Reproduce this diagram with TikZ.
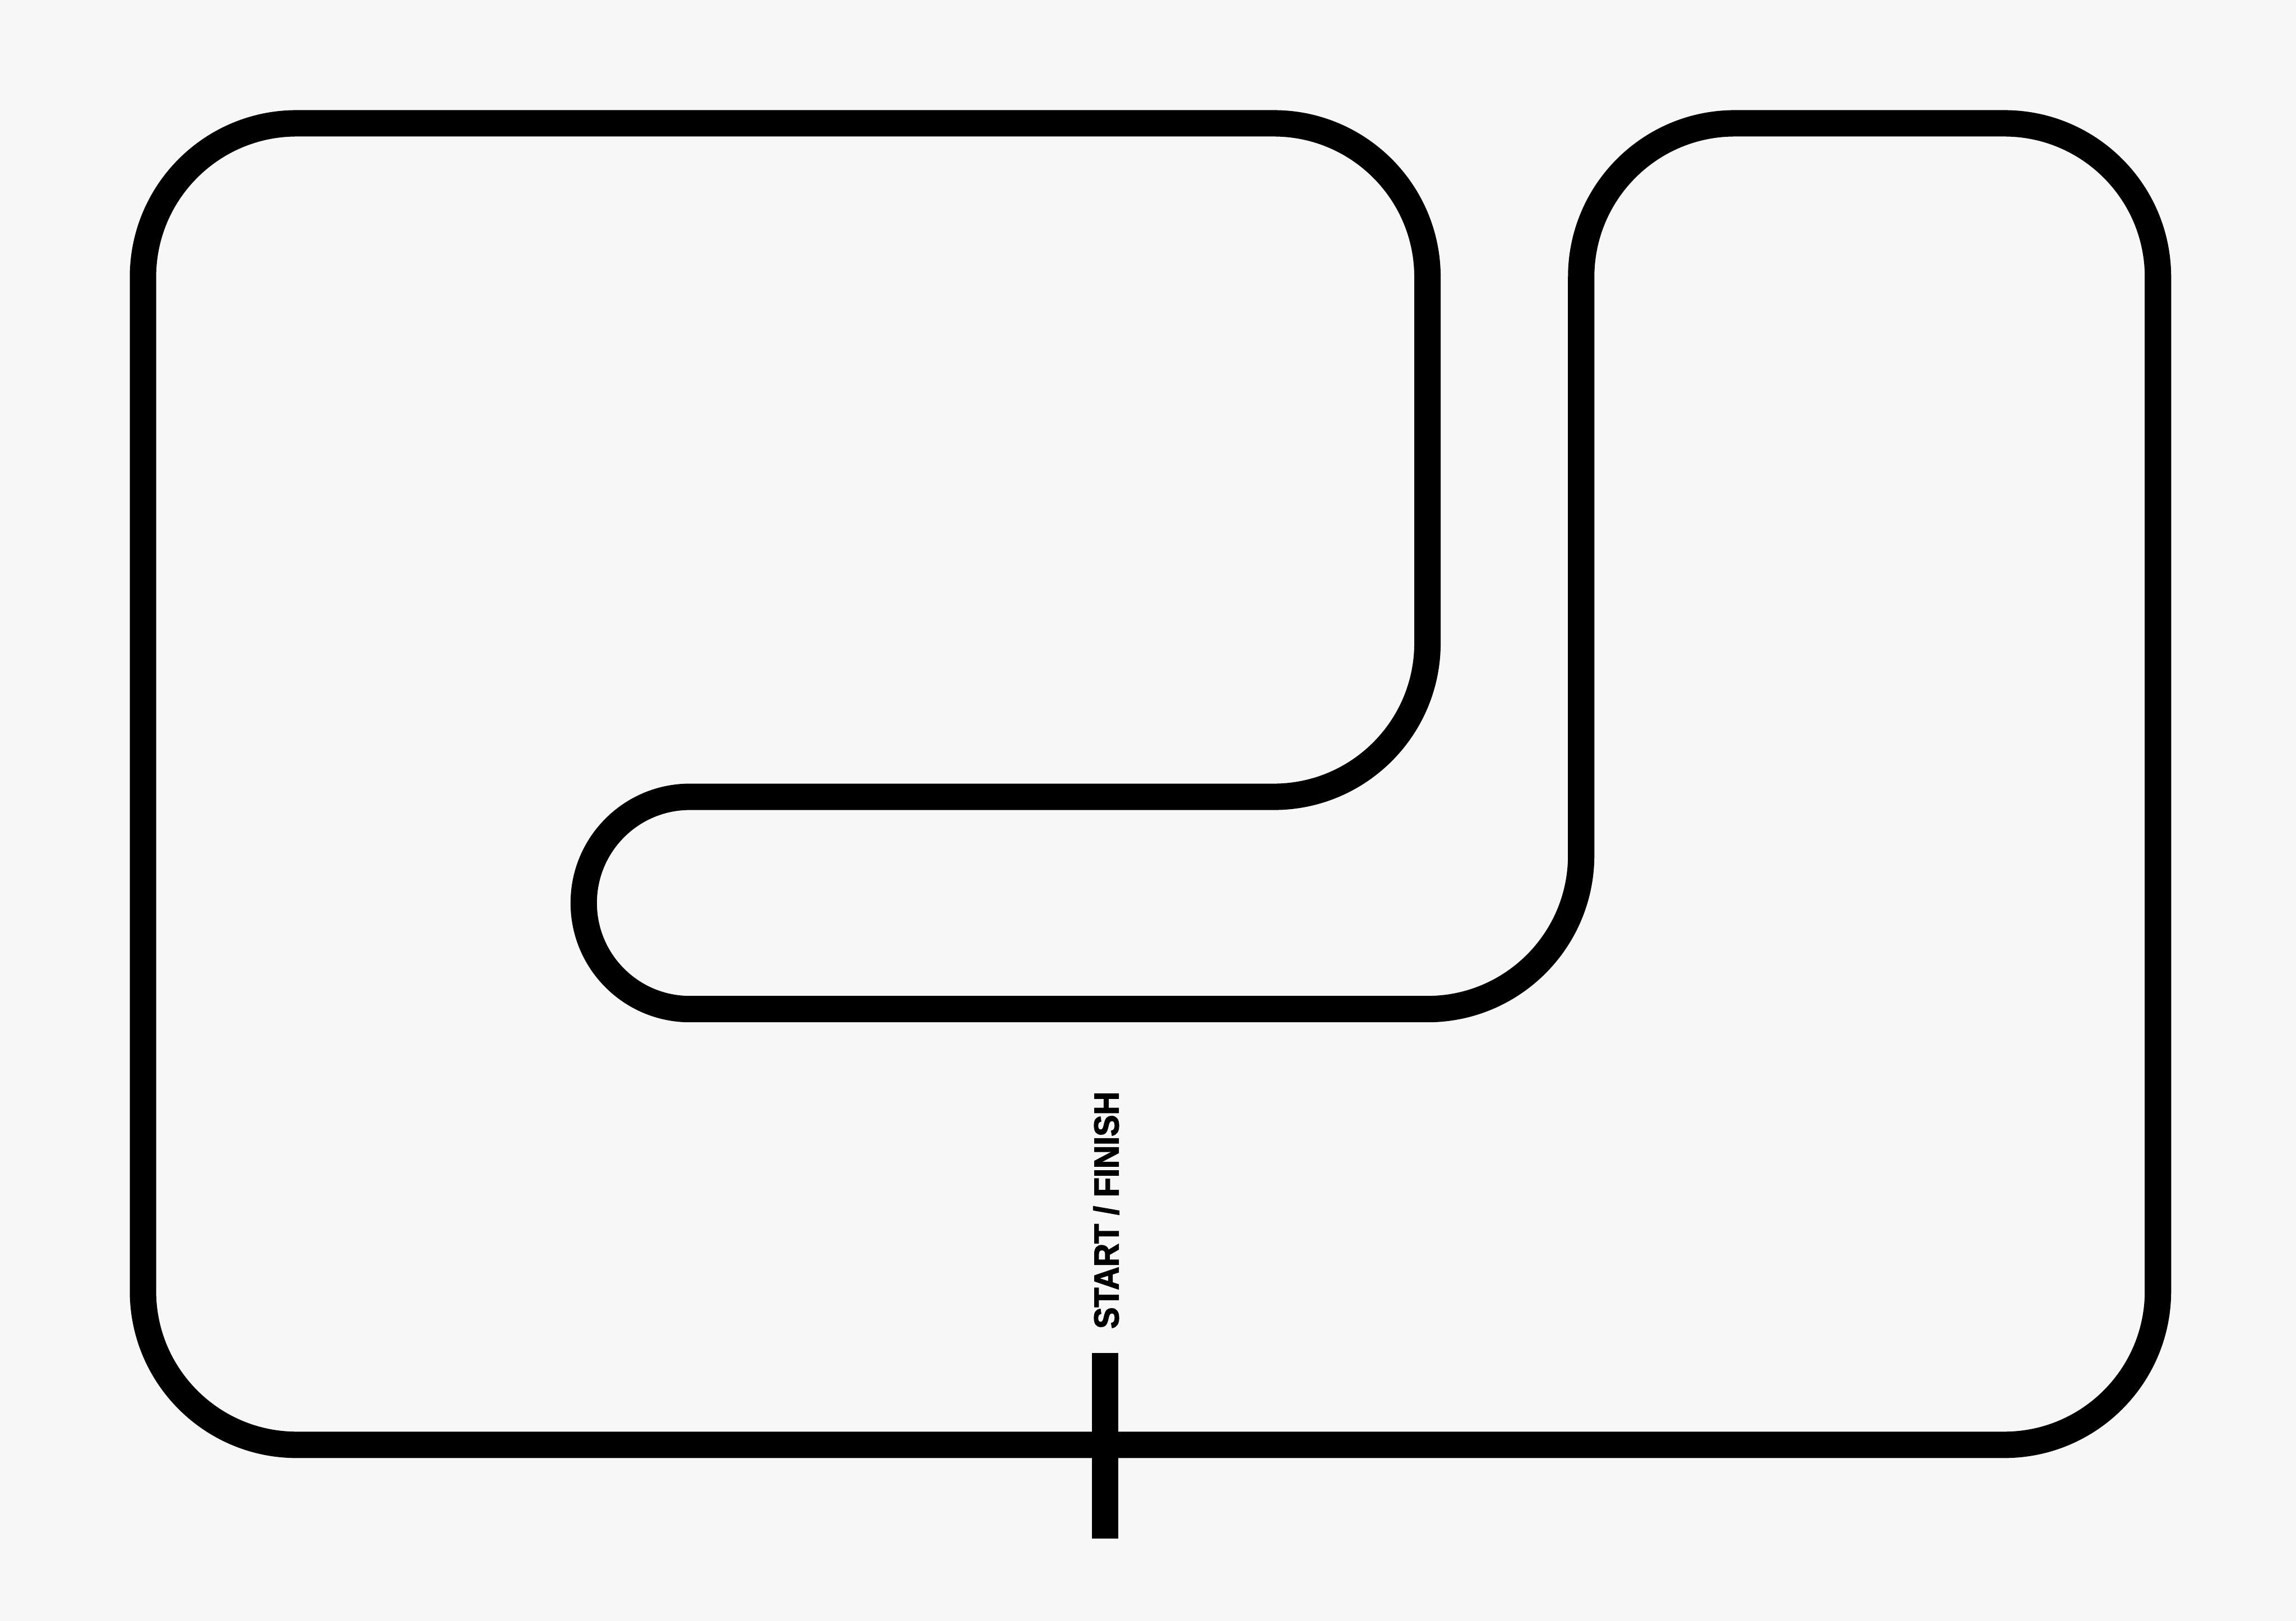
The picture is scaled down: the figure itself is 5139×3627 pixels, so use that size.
\documentclass[tikz,border=0pt]{standalone}
\usepackage{fontspec}
\setmainfont{Liberation Sans}[BoldFont={Liberation Sans Bold}]
\newfontfamily\sflabelfont{Liberation Sans Bold}[FakeBold=2.5]
\definecolor{bgc}{RGB}{247,247,247}
\begin{document}
\begin{tikzpicture}[x=0.01cm,y=0.01cm,
  track/.style={line width=0.59cm,draw=black,line join=miter},
  sflabel/.style={rotate=90,inner sep=0pt,font=\sflabelfont\fontsize{22}{26}\selectfont}]
\fill[bgc] (0,0) rectangle (5139,3627);
\useasboundingbox (0,0) rectangle (5139,3627);
\coordinate (p0) at (320,738);
\coordinate (p1) at (320,3007);
\coordinate (p2) at (2851,3351);
\coordinate (p3) at (3195,2188);
\coordinate (p4) at (1544,1844);
\coordinate (p5) at (3195,1369);
\coordinate (p6) at (3539,3007);
\coordinate (p7) at (4486,3351);
\coordinate (p8) at (4830,738);
\coordinate (p9) at (664,394);
\draw[track] (p0) -- (p1) arc[start angle=180,end angle=90,radius=344]
  -- (p2) arc[start angle=90,end angle=0,radius=344]
  -- (p3) arc[start angle=0,end angle=-90,radius=344]
  -- (p4) arc[start angle=90,end angle=270,radius=237.5]
  -- (p5) arc[start angle=-90,end angle=0,radius=344]
  -- (p6) arc[start angle=180,end angle=90,radius=344]
  -- (p7) arc[start angle=90,end angle=0,radius=344]
  -- (p8) arc[start angle=0,end angle=-90,radius=344]
  -- (p9) arc[start angle=270,end angle=180,radius=344] -- cycle;
\coordinate (bar1) at (2474,184);
\coordinate (bar2) at (2474,600);
\draw[line width=0.59cm,black] (bar1) -- (bar2);
\node[sflabel] (sf) at (2476,919) {\scalebox{0.93}[1]{START / FINISH}};
\end{tikzpicture}
\end{document}
